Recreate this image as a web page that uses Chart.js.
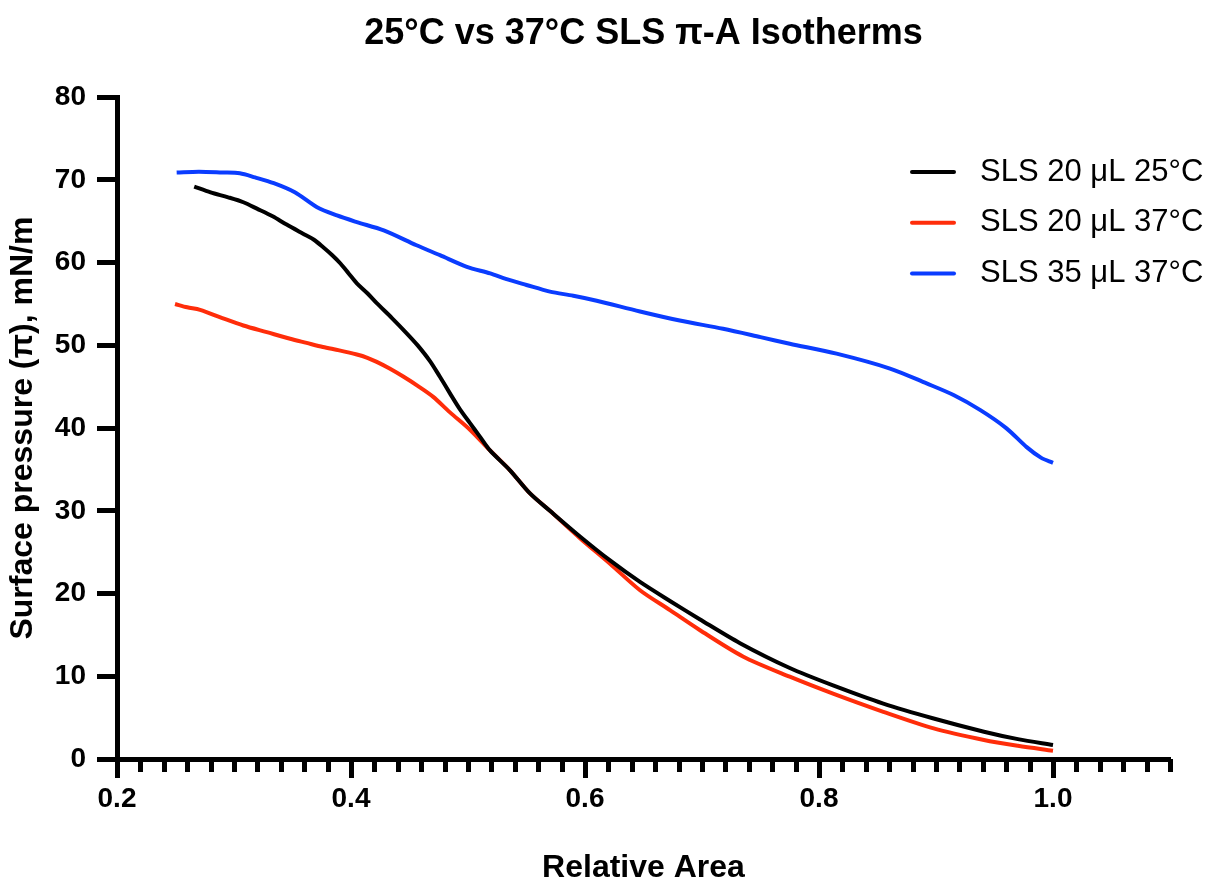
<!DOCTYPE html>
<html>
<head>
<meta charset="utf-8">
<script src="https://cdn.jsdelivr.net/npm/chart.js@4/dist/chart.umd.min.js"></script>
<style>
  html, body { margin: 0; padding: 0; background: #fff; }
  #wrap { width: 1212px; height: 884px; }
</style>
</head>
<body>
<div id="wrap"><canvas id="c" width="1212" height="884"></canvas></div>
<script>
// ---- Data ----
const chartTitle = '25°C vs 37°C SLS π-A Isotherms';
const xTitle = 'Relative Area';
const yTitle = 'Surface pressure (π), mN/m';
const seriesLabels = ['SLS 20 μL 25°C', 'SLS 20 μL 37°C', 'SLS 35 μL 37°C'];

const area25 = [0.266,0.28,0.295,0.308,0.32,0.333,0.345,0.359,0.368,0.376,0.384,0.391,0.398,0.405,0.414,0.422,0.435,0.448,0.457,0.4675,0.476,0.4846,0.493,0.5017,0.51,0.5188,0.5359,0.553,0.57,0.5957,0.6214,0.647,0.6726,0.698,0.7325,0.775,0.812,0.855,0.898,0.941,0.97,1.0];
const pressure25 = [69.2,68.5,67.9,67.3,66.5,65.6,64.6,63.5,62.8,61.9,60.9,59.9,58.7,57.5,56.3,55.1,53.3,51.4,50.0,48.1,46.2,44.2,42.3,40.6,39.0,37.3,34.9,32.1,30.0,26.9,24.0,21.4,19.1,16.9,14.0,11.0,8.9,6.7,4.9,3.3,2.4,1.7];

const area37a = [0.2496,0.26,0.271,0.29,0.308,0.328,0.348,0.362,0.376,0.39,0.405,0.414,0.422,0.433,0.445,0.457,0.47,0.4846,0.5017,0.5188,0.5359,0.553,0.57,0.5957,0.6214,0.647,0.6726,0.698,0.735,0.775,0.812,0.855,0.898,0.941,0.97,1.0];
const pressure37a = [55.0,54.6,54.3,53.3,52.4,51.6,50.8,50.3,49.8,49.4,48.9,48.5,48.0,47.2,46.2,45.1,43.8,41.9,39.8,37.3,34.9,32.1,30.0,26.7,23.6,20.4,18.0,15.6,12.4,9.95,7.9,5.7,3.7,2.3,1.6,1.0];

const area37b = [0.251,0.27,0.29,0.305,0.318,0.334,0.352,0.371,0.388,0.405,0.428,0.456,0.476,0.499,0.519,0.533,0.55,0.57,0.59,0.61,0.647,0.681,0.718,0.75,0.775,0.815,0.8607,0.892,0.915,0.9376,0.96,0.9775,0.99,1.0];
const pressure37b = [70.9,71.0,70.9,70.8,70.3,69.6,68.5,66.7,65.7,64.9,63.9,62.1,60.9,59.5,58.7,58.0,57.3,56.5,56.0,55.4,54.1,53.0,52.0,51.0,50.2,49.0,47.2,45.4,44.0,42.2,40.0,37.7,36.4,35.8];

const xMin = 0.2, xMax = 1.1, xMinorStep = 0.02, xMajorStep = 0.2;
const yMin = 0, yMax = 80, yStep = 10;

// ---- Styles ----
const FONT = '"Liberation Sans", Arial, Helvetica, sans-serif';
const colors = ['#000000', '#FF2D0A', '#0A3CFF'];

function toPoints(xs, ys) { return xs.map((x, i) => ({ x: x, y: ys[i] })); }
function isMajor(v) { const r = v / xMajorStep; return Math.abs(r - Math.round(r)) < 1e-6; }

const xTickPlugin = {
  id: 'xTicks',
  afterDraw(chart, args, opts) {
    const s = chart.scales.x;
    const ctx = chart.ctx;
    ctx.save();
    ctx.strokeStyle = '#000';
    ctx.lineWidth = opts.width;
    ctx.lineCap = 'butt';
    s.ticks.forEach(t => {
      const px = Math.round(s.getPixelForValue(t.value)) + 0.5;
      const len = isMajor(t.value) ? opts.majorLen : opts.minorLen;
      ctx.beginPath();
      ctx.moveTo(px, s.top);
      ctx.lineTo(px, s.top + len);
      ctx.stroke();
    });
    ctx.restore();
  }
};

const insideLegend = {
  id: 'insideLegend',
  afterDraw(chart, args, opts) {
    const ctx = chart.ctx;
    chart.data.datasets.forEach((ds, i) => {
      const y = opts.top + i * opts.rowGap;
      ctx.save();
      ctx.strokeStyle = ds.borderColor;
      ctx.lineWidth = 4;
      ctx.lineCap = 'round';
      ctx.beginPath();
      ctx.moveTo(opts.lineX0, y);
      ctx.lineTo(opts.lineX1, y);
      ctx.stroke();
      ctx.fillStyle = '#000';
      ctx.font = opts.fontSize + 'px ' + FONT;
      ctx.textBaseline = 'middle';
      ctx.textAlign = 'left';
      ctx.fillText(ds.label, opts.textX, y);
      ctx.restore();
    });
  }
};

const seriesX = [area25, area37a, area37b];
const seriesY = [pressure25, pressure37a, pressure37b];

new Chart(document.getElementById('c'), {
  type: 'scatter',
  data: {
    datasets: seriesLabels.map((lab, i) => ({
      label: lab,
      data: toPoints(seriesX[i], seriesY[i]),
      showLine: true,
      borderColor: colors[i],
      backgroundColor: colors[i],
      borderWidth: 4,
      pointRadius: 0,
      tension: 0.3,
      fill: false
    }))
  },
  options: {
    responsive: false,
    animation: false,
    layout: { autoPadding: false, padding: { left: 0, right: 42, top: 0, bottom: 0 } },
    plugins: {
      legend: { display: false },
      tooltip: { enabled: false },
      title: {
        display: true,
        text: chartTitle,
        fullSize: false,
        color: '#000',
        font: { family: FONT, size: 36, weight: 'bold', lineHeight: 1.2 },
        padding: { top: 12, bottom: 42 }
      },
      xTicks: { width: 5, majorLen: 19, minorLen: 13 },
      insideLegend: { top: 172, rowGap: 50.7, lineX0: 912, lineX1: 954, textX: 980, fontSize: 31 }
    },
    scales: {
      x: {
        type: 'linear',
        position: 'bottom',
        min: xMin,
        max: xMax,
        afterFit: s => { s.height = 125; },
        border: { display: true, color: '#000', width: 5 },
        grid: { display: true, drawOnChartArea: false, drawTicks: true, tickLength: 20, color: 'rgba(0,0,0,0)', tickColor: 'rgba(0,0,0,0)' },
        ticks: {
          stepSize: xMinorStep,
          autoSkip: false,
          maxRotation: 0,
          minRotation: 0,
          padding: 3,
          color: '#000',
          font: { family: FONT, size: 28, weight: 'bold' },
          callback: v => isMajor(v) ? Number(v).toFixed(1) : ''
        },
        title: {
          display: true,
          text: xTitle,
          color: '#000',
          font: { family: FONT, size: 32, weight: 'bold', lineHeight: 1.2 },
          padding: { top: 0, bottom: -3 }
        }
      },
      y: {
        type: 'linear',
        position: 'left',
        min: yMin,
        max: yMax,
        afterFit: s => { s.width = 117; },
        border: { display: true, color: '#000', width: 5 },
        grid: { display: true, drawOnChartArea: false, drawTicks: true, tickLength: 20, tickWidth: 5, color: 'rgba(0,0,0,0)', tickColor: '#000' },
        ticks: {
          stepSize: yStep,
          padding: 11,
          color: '#000',
          font: { family: FONT, size: 28, weight: 'bold' }
        },
        title: {
          display: true,
          text: yTitle,
          color: '#000',
          font: { family: FONT, size: 32, weight: 'bold', lineHeight: 1.2 },
          padding: { top: 4, bottom: 0 }
        }
      }
    }
  },
  plugins: [xTickPlugin, insideLegend]
});
</script>
</body>
</html>
